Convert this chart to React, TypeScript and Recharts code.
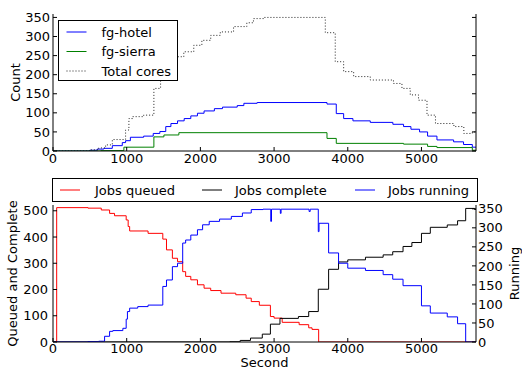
import React from 'react';
import { LineChart, Line, XAxis, YAxis } from 'recharts';

// ---- Top panel data (seconds -> count) ----
const hotelX = [0, 500, 600, 690, 805, 940, 985, 1050, 1230, 1360, 1450, 1530, 1600, 1690, 1780, 1870, 1960, 2050, 2190, 2300, 2500, 2590, 2770, 3718, 3844, 3944, 4070, 4305, 4612, 4757, 4857, 4974, 5083, 5210, 5436, 5571, 5690, 5740];
const hotelY = [0, 2, 5, 7, 14, 22, 27, 36, 39, 46, 51, 64, 72, 79, 85, 92, 99, 105, 111, 115, 119, 125, 127, 123, 98, 85, 79, 75, 70, 64, 57, 50, 39, 29, 24, 17, 10, 10];

const sierraX = [0, 650, 962, 1369, 1505, 1708, 3718, 3844, 4757, 5083, 5210, 5690, 5740];
const sierraY = [0, 1, 10, 37, 42, 48, 33, 20, 18, 12, 9, 2, 2];

const coresX = [0, 500, 620, 714, 805, 985, 1030, 1080, 1230, 1369, 1460, 1530, 1600, 1686, 1775, 1910, 2020, 2140, 2270, 2450, 2630, 2720, 2860, 3695, 3830, 3944, 4080, 4305, 4620, 4735, 4848, 4960, 5075, 5190, 5440, 5575, 5690, 5740];
const coresY = [0, 3, 8, 16, 30, 55, 85, 90, 94, 164, 186, 205, 225, 247, 260, 277, 290, 303, 312, 326, 336, 347, 350, 310, 234, 208, 195, 186, 177, 164, 147, 133, 94, 72, 64, 46, 50, 50];

// ---- Bottom panel data ----
const queuedX = [0, 50, 475, 655, 768, 835, 993, 1020, 1040, 1290, 1490, 1540, 1620, 1690, 1760, 1800, 1870, 1960, 2050, 2140, 2280, 2480, 2620, 2690, 2800, 2950, 3000, 3110, 3340, 3470, 3515, 3605, 5740];
const queuedY = [0, 512, 510, 503, 490, 481, 465, 440, 423, 414, 392, 351, 319, 306, 268, 250, 237, 218, 205, 196, 186, 180, 167, 154, 140, 97, 91, 75, 66, 54, 48, 0, 0];

const completeX = [0, 2400, 2540, 2680, 2840, 2950, 3080, 3330, 3470, 3600, 3740, 3875, 4000, 4240, 4480, 4610, 4750, 4870, 5000, 5120, 5350, 5490, 5600, 5720, 5740];
const completeY = [0, 1, 6, 15, 30, 68, 90, 97, 116, 201, 277, 305, 313, 323, 332, 344, 364, 379, 414, 437, 446, 462, 509, 505, 505];

const runningX = [0, 475, 620, 700, 768, 812, 948, 993, 1010, 1040, 1150, 1290, 1490, 1540, 1620, 1690, 1760, 1800, 1870, 1960, 2030, 2120, 2260, 2420, 2570, 2690, 2850, 2955, 2965, 3085, 3095, 3475, 3490, 3600, 3610, 3740, 3875, 4000, 4240, 4480, 4610, 4750, 5000, 5120, 5350, 5490, 5600, 5740];
const runningY = [0, 1, 2, 15, 28, 30, 36, 60, 80, 89, 93, 97, 146, 163, 198, 207, 260, 268, 281, 295, 308, 317, 323, 330, 339, 348, 349, 317, 349, 338, 349, 343, 349, 290, 312, 234, 207, 194, 188, 177, 165, 148, 95, 76, 66, 48, 0, 0];

// ---- Ticks ----
const xTicks = [0, 1000, 2000, 3000, 4000, 5000];
const countTicks = [0, 50, 100, 150, 200, 250, 300, 350];
const qcTicks = [0, 100, 200, 300, 400, 500];
const runTicks = [0, 50, 100, 150, 200, 250, 300, 350];

const zip = (xs: number[], ys: number[]) => xs.map((x, i) => ({ x, y: ys[i] }));

const FONT = '"DejaVu Sans", Verdana, sans-serif';
const tickStyle = { fill: '#000', fontSize: 13, fontFamily: FONT };
const axisLine = { stroke: '#000', strokeWidth: 1 };
const tickLine = { stroke: '#000', strokeWidth: 1 };
const blank = () => '';

const topSeries = [
  { name: 'fg-hotel', color: '#0000ff', dash: undefined as string | undefined, data: zip(hotelX, hotelY) },
  { name: 'fg-sierra', color: '#008000', dash: undefined as string | undefined, data: zip(sierraX, sierraY) },
  { name: 'Total cores', color: '#222222', dash: '1 2', data: zip(coresX, coresY) },
];

const bottomSeries = [
  { name: 'Jobs queued', color: '#ff0000', axis: 'l', data: zip(queuedX, queuedY) },
  { name: 'Jobs complete', color: '#000000', axis: 'l', data: zip(completeX, completeY) },
  { name: 'Jobs running', color: '#0000ff', axis: 'r', data: zip(runningX, runningY) },
];

const VLabel = (props: any) => {
  const { viewBox, text, xPos } = props;
  const cy = viewBox.y + viewBox.height / 2;
  return (
    <text x={xPos} y={cy} transform={`rotate(-90 ${xPos} ${cy})`} textAnchor="middle" dominantBaseline="central" fontSize={13} fontFamily={FONT} fill="#000">
      {text}
    </text>
  );
};

export default function App() {
  return (
    <div style={{ position: 'absolute', left: 0, top: 0, width: 522, height: 370, background: '#fff', fontFamily: FONT, overflow: 'hidden' }}>
      <div style={{ position: 'absolute', left: 0, top: 0 }}>
        <LineChart width={522} height={170} margin={{ top: 14, right: 0, bottom: 0, left: 0 }}>
          <XAxis xAxisId="b" type="number" dataKey="x" domain={[0, 5740]} ticks={xTicks} interval={0} allowDataOverflow
            height={19} tickSize={-4} tickMargin={7} tick={tickStyle} axisLine={axisLine} tickLine={tickLine} />
          <XAxis xAxisId="t" orientation="top" type="number" dataKey="x" domain={[0, 5740]} ticks={xTicks} interval={0} allowDataOverflow
            height={0} tickSize={-4} tickFormatter={blank} axisLine={axisLine} tickLine={tickLine} />
          <YAxis yAxisId="l" type="number" domain={[0, 359]} ticks={countTicks} interval={0} allowDataOverflow width={53}
            tickSize={-4} tickMargin={7} tick={tickStyle} axisLine={axisLine} tickLine={tickLine}
            label={<VLabel text="Count" xPos={15} />} />
          <YAxis yAxisId="r" orientation="right" type="number" domain={[0, 359]} ticks={countTicks} interval={0} allowDataOverflow width={46}
            tickSize={-4} tickFormatter={blank} axisLine={axisLine} tickLine={tickLine} />
          {topSeries.map((s) => (
            <Line key={s.name} xAxisId="b" yAxisId="l" data={s.data} dataKey="y" name={s.name} type="stepAfter"
              stroke={s.color} strokeWidth={1} strokeDasharray={s.dash} dot={false} activeDot={false} isAnimationActive={false} />
          ))}
        </LineChart>
        <svg style={{ position: 'absolute', left: 58, top: 20 }} width={120} height={61}>
          <rect x={0.5} y={0.5} width={119} height={60} fill="#fff" stroke="#000" strokeWidth={1} />
          {topSeries.map((s, i) => (
            <g key={s.name}>
              <line x1={8.5} x2={28.5} y1={12 + i * 19.5} y2={12 + i * 19.5} stroke={s.color} strokeWidth={1} strokeDasharray={s.dash} />
              <text x={43.5} y={12 + i * 19.5} dominantBaseline="central" fontSize={13} fontFamily={FONT} fill="#000">{s.name}</text>
            </g>
          ))}
        </svg>
      </div>

      <div style={{ position: 'absolute', left: 0, top: 170 }}>
        <LineChart width={522} height={200} margin={{ top: 35, right: 0, bottom: 0, left: 0 }}>
          <XAxis xAxisId="b" type="number" dataKey="x" domain={[0, 5740]} ticks={xTicks} interval={0} allowDataOverflow
            height={28} tickSize={-4} tickMargin={6} tick={tickStyle} axisLine={axisLine} tickLine={tickLine}
            label={{ value: 'Second', position: 'insideBottom', offset: 3, fill: '#000', fontSize: 13, fontFamily: FONT }} />
          <XAxis xAxisId="t" orientation="top" type="number" dataKey="x" domain={[0, 5740]} ticks={xTicks} interval={0} allowDataOverflow
            height={0} tickSize={-4} tickFormatter={blank} axisLine={axisLine} tickLine={tickLine} />
          <YAxis yAxisId="l" type="number" domain={[0, 522]} ticks={qcTicks} interval={0} allowDataOverflow width={53}
            tickSize={-4} tickMargin={9} tick={tickStyle} axisLine={axisLine} tickLine={tickLine}
            label={<VLabel text="Queued and Complete" xPos={12} />} />
          <YAxis yAxisId="r" orientation="right" type="number" domain={[0, 360]} ticks={runTicks} interval={0} allowDataOverflow width={46}
            tickSize={-4} tickMargin={6} tick={tickStyle} axisLine={axisLine} tickLine={tickLine}
            label={<VLabel text="Running" xPos={514} />} />
          {bottomSeries.map((s) => (
            <Line key={s.name} xAxisId="b" yAxisId={s.axis} data={s.data} dataKey="y" name={s.name} type="stepAfter"
              stroke={s.color} strokeWidth={1} dot={false} activeDot={false} isAnimationActive={false} />
          ))}
        </LineChart>
        <svg style={{ position: 'absolute', left: 52, top: 8 }} width={426} height={25}>
          <rect x={0.5} y={0.5} width={425} height={23} fill="#fff" stroke="#000" strokeWidth={1} />
          {bottomSeries.map((s, i) => {
            const lx = [8, 150, 303][i];
            const tx = [43, 183, 336][i];
            return (
              <g key={s.name}>
                <line x1={lx} x2={lx + 20} y1={12} y2={12} stroke={s.color} strokeWidth={1} />
                <text x={tx} y={12} dominantBaseline="central" fontSize={13} fontFamily={FONT} fill="#000">{s.name}</text>
              </g>
            );
          })}
        </svg>
      </div>
    </div>
  );
}
